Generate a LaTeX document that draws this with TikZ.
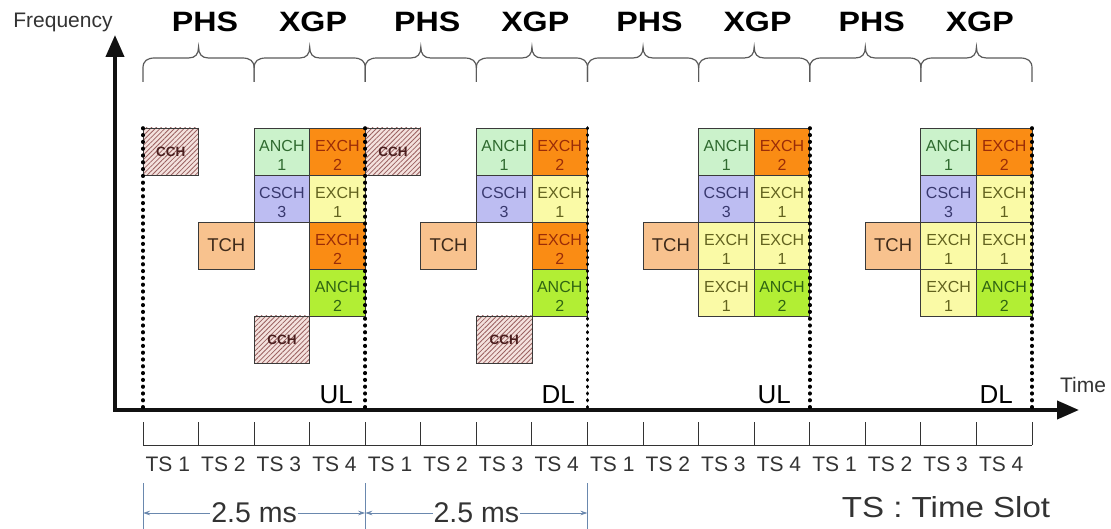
\documentclass[tikz,border=0pt]{standalone}
\usepackage{fontspec}
\setmainfont{Liberation Sans}
\usetikzlibrary{arrows.meta,patterns.meta}

\definecolor{axisgray}{HTML}{111111}
\definecolor{txtgray}{HTML}{333333}
\definecolor{bracegray}{HTML}{5A5A5A}
\definecolor{cellline}{HTML}{3A3A3A}
\definecolor{anchonefill}{HTML}{CBF2CB}
\definecolor{anchonetext}{HTML}{2F6A2F}
\definecolor{exchtwofill}{HTML}{FA8C14}
\definecolor{exchtwotext}{HTML}{9A2C08}
\definecolor{cschfill}{HTML}{BDBDF2}
\definecolor{cschtext}{HTML}{38386E}
\definecolor{exchonefill}{HTML}{FAFAA6}
\definecolor{exchonetext}{HTML}{62621E}
\definecolor{anchtwofill}{HTML}{B2EE34}
\definecolor{anchtwotext}{HTML}{2F6412}
\definecolor{tchfill}{HTML}{F8C28E}
\definecolor{tchtext}{HTML}{3E2A1A}
\definecolor{cchfill}{HTML}{F4E2DE}
\definecolor{cchhatch}{HTML}{9A6060}
\definecolor{cchtext}{HTML}{4A1E1E}
\definecolor{spanblue}{HTML}{6A88AE}

% curly brace over one PHS or XGP half-frame: #1 left end, #2 right end
\newcommand\curlybrace[2]{%
  \pgfmathsetmacro\bracel{#1}%
  \pgfmathsetmacro\bracer{#2}%
  \pgfmathsetmacro\bracem{(\bracel+\bracer)/2}%
  \draw[bracestyle] (\bracel,82) -- (\bracel,68)
    .. controls (\bracel,61) and ({\bracel+4},58) .. ({\bracel+12},58)
    -- ({\bracem-10},58)
    .. controls ({\bracem-3},58) and (\bracem,54) .. (\bracem,47)
    .. controls (\bracem,54) and ({\bracem+3},58) .. ({\bracem+10},58)
    -- ({\bracer-12},58)
    .. controls ({\bracer-4},58) and (\bracer,61) .. (\bracer,68)
    -- (\bracer,82);%
}

\begin{document}
\begin{tikzpicture}[x=1pt,y=-1pt,
  bracestyle/.style={draw=bracegray, line width=1.2pt},
  axis/.style={line width=4pt, draw=axisgray, line join=miter,
    {Triangle[length=22pt,width=18pt]}-{Triangle[length=22pt,width=18pt]}},
  dotline/.style={draw=black, line width=3.6pt, line cap=round,
    dash pattern=on 0.6pt off 6.2pt},
  tick/.style={draw=txtgray, line width=1pt},
  span/.style={draw=spanblue, line width=0.8pt,
    {Stealth[length=7pt,width=4.5pt]}-{Stealth[length=7pt,width=4.5pt]}},
  spanedge/.style={draw=spanblue, line width=0.8pt},
  phase/.style={font=\bfseries\fontsize{28}{30}\selectfont, text=black},
  plain/.style={text=txtgray, inner sep=1pt},
  cellbox/.style={draw=cellline, line width=0.8pt, minimum width=55.5625pt,
    minimum height=47pt, inner sep=0pt, outer sep=0pt, anchor=north west},
  twoline/.style={align=center, font=\fontsize{16}{19}\selectfont, yshift=-4pt},
  anchone/.style={cellbox, fill=anchonefill,
    label={[twoline, text=anchonetext]center:ANCH\\1}},
  anchtwo/.style={cellbox, fill=anchtwofill,
    label={[twoline, text=anchtwotext]center:ANCH\\2}},
  exchone/.style={cellbox, fill=exchonefill,
    label={[twoline, text=exchonetext]center:EXCH\\1}},
  exchtwo/.style={cellbox, fill=exchtwofill,
    label={[twoline, text=exchtwotext]center:EXCH\\2}},
  cschthree/.style={cellbox, fill=cschfill,
    label={[twoline, text=cschtext]center:CSCH\\3}},
  tch/.style={cellbox, fill=tchfill,
    label={[font=\fontsize{18.5}{20}\selectfont, text=tchtext]center:TCH}},
  cch/.style={cellbox, preaction={fill=cchfill},
    pattern={Lines[angle=45,distance=3.4pt,line width=0.8pt]}, pattern color=cchhatch,
    label={[font=\bfseries\fontsize{13.5}{14}\selectfont, text=cchtext]center:CCH}},
  ]
\useasboundingbox (0,0) rectangle (1111,529);

% frequency / time axes
\coordinate (origin) at (115,410);
\coordinate (ftip) at (115,35);
\coordinate (ttip) at (1079,410);
\draw[axis] (ftip) -- (origin) -- (ttip);
\node[plain, font=\fontsize{21}{23}\selectfont] (freq) at (63,22) {Frequency};
\node[plain, font=\fontsize{21}{23}\selectfont] (time) at (1083,385) {Time};

% braces and half-frame titles
\foreach \p/\x in {1/143,2/365.25,3/587.5,4/809.75} {
  \curlybrace{\x}{\x+111.125}
  \curlybrace{\x+111.125}{\x+222.25}
  \node[phase] (phs\p) at (\x+62,22) {\scalebox{1.15}[1]{PHS}};
  \node[phase] (xgp\p) at (\x+170,22) {\scalebox{1.15}[1]{XGP}};
}

% frames with control channels
\foreach \p/\x in {1/143,2/365.25} {
  \node[cch]       (cchtop\p)  at (\x,128) {};
  \node[tch]       (tch\p)     at (\x+55.5625,222) {};
  \node[anchone]   (anchone\p) at (\x+111.125,128) {};
  \node[exchtwo]   (exchta\p)  at (\x+166.6875,128) {};
  \node[cschthree] (csch\p)    at (\x+111.125,175) {};
  \node[exchone]   (exchoa\p)  at (\x+166.6875,175) {};
  \node[exchtwo]   (exchtb\p)  at (\x+166.6875,222) {};
  \node[anchtwo]   (anchtwo\p) at (\x+166.6875,269) {};
  \node[cch]       (cchlow\p)  at (\x+111.125,316) {};
}

% frames with extra traffic channels
\foreach \p/\x in {3/587.5,4/809.75} {
  \node[tch]       (tch\p)     at (\x+55.5625,222) {};
  \node[anchone]   (anchone\p) at (\x+111.125,128) {};
  \node[exchtwo]   (exchta\p)  at (\x+166.6875,128) {};
  \node[cschthree] (csch\p)    at (\x+111.125,175) {};
  \node[exchone]   (exchoa\p)  at (\x+166.6875,175) {};
  \node[exchone]   (exchob\p)  at (\x+111.125,222) {};
  \node[exchone]   (exchoc\p)  at (\x+166.6875,222) {};
  \node[exchone]   (exchod\p)  at (\x+111.125,269) {};
  \node[anchtwo]   (anchtwo\p) at (\x+166.6875,269) {};
}

% frame boundaries
\foreach \x in {143,365.25,587.5,809.75,1032} {
  \draw[dotline] (\x,128) -- (\x,410);
}

% uplink / downlink marks
\node[text=black, font=\fontsize{26}{28}\selectfont, anchor=east, inner sep=0pt] (ul1) at (353,395) {UL};
\node[text=black, font=\fontsize{26}{28}\selectfont, anchor=east, inner sep=0pt] (dl1) at (575,395) {DL};
\node[text=black, font=\fontsize{26}{28}\selectfont, anchor=east, inner sep=0pt] (ul2) at (791,395) {UL};
\node[text=black, font=\fontsize{26}{28}\selectfont, anchor=east, inner sep=0pt] (dl2) at (1013,395) {DL};

% time slot scale
\draw[tick] (143,445) -- (1032,445);
\foreach \k in {0,...,16} {
  \draw[tick] ({143+\k*55.5625},422) -- ({143+\k*55.5625},445);
}
\foreach \k in {0,...,15} {
  \pgfmathtruncatemacro\slotno{mod(\k,4)+1}
  \node[plain, font=\fontsize{21}{23}\selectfont] (ts\k) at ({143+(\k+0.5)*55.5625-3},464) {TS \slotno};
}

% frame durations
\foreach \x in {143,365.25,587.5} {
  \draw[spanedge] (\x,483) -- (\x,529);
}
\coordinate (sa) at (143,513);
\coordinate (sb) at (365.25,513);
\coordinate (sc) at (587.5,513);
\draw[span] (sa) -- (sb) node[midway, fill=white, text=txtgray, inner xsep=1pt, inner ysep=0pt, font=\fontsize{28.5}{30}\selectfont] (msa) {2.5 ms};
\draw[span] (sb) -- (sc) node[midway, fill=white, text=txtgray, inner xsep=1pt, inner ysep=0pt, font=\fontsize{28.5}{30}\selectfont] (msb) {2.5 ms};

\node[plain, font=\fontsize{29}{31}\selectfont] (legend) at (946,507) {\scalebox{1.14}[1]{TS : Time Slot}};
\end{tikzpicture}
\end{document}
